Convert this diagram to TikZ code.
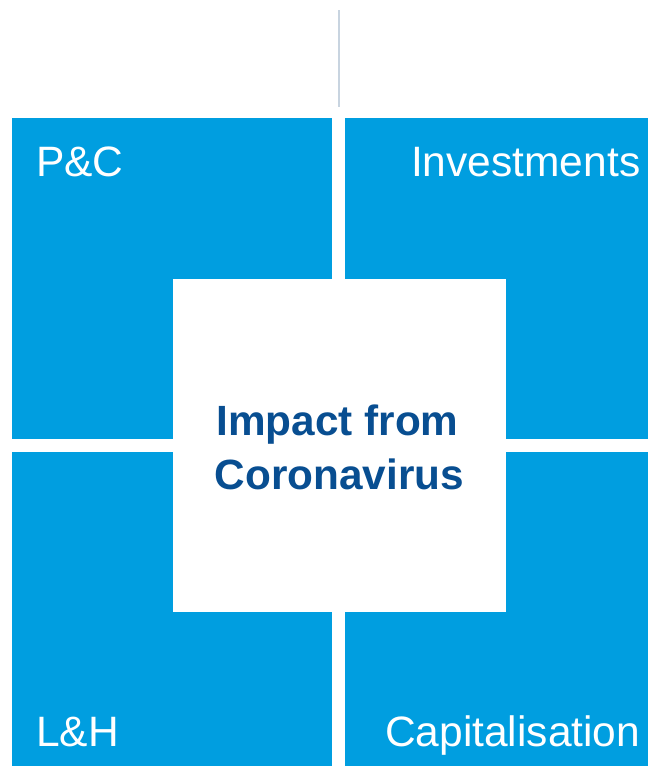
\documentclass[tikz,border=0pt]{standalone}
\usepackage{fontspec}
\setmainfont{Liberation Sans}
\definecolor{quadblue}{RGB}{0,158,224}
\definecolor{titleblue}{RGB}{8,78,145}
\definecolor{linegrey}{RGB}{200,212,224}
\begin{document}
\begin{tikzpicture}[x=1pt,y=-1pt,
  quad/.style={fill=quadblue,draw=none,inner sep=0pt,rectangle},
  centerbox/.style={fill=white,draw=none,inner sep=0pt,rectangle,minimum width=333pt,minimum height=333pt},
  quadlabel/.style={text=white,inner sep=0pt,font=\fontsize{42.5}{50}\selectfont},
  titlelabel/.style={text=titleblue,inner sep=0pt,font=\fontsize{42.3}{50}\selectfont\bfseries}]
\useasboundingbox (0,0) rectangle (648,766);
\node[quad,minimum width=320pt,minimum height=321pt] (tl) at (172,278.5) {};
\node[quad,minimum width=303pt,minimum height=321pt] (tr) at (496.5,278.5) {};
\node[quad,minimum width=320pt,minimum height=314pt] (bl) at (172,609) {};
\node[quad,minimum width=303pt,minimum height=314pt] (br) at (496.5,609) {};
\node[centerbox] (center) at (339.5,445.5) {};
\coordinate (lt) at (338.5,10);
\coordinate (lb) at (338.5,107);
\draw[linegrey,line width=2pt] (lt) -- (lb);
\node[quadlabel,anchor=base west] (pc) at (36,176) {P\&C};
\node[quadlabel,anchor=base east] (inv) at (640.5,176) {Investments};
\node[quadlabel,anchor=base west] (lh) at (36,746) {L\&H};
\node[quadlabel,anchor=base east] (cap) at (640.5,746) {Capitalisation};
\node[titlelabel,anchor=base] (t1) at (337.5,435) {Impact from};
\node[titlelabel,anchor=base] (t2) at (339.5,489) {Coronavirus};
\end{tikzpicture}
\end{document}
